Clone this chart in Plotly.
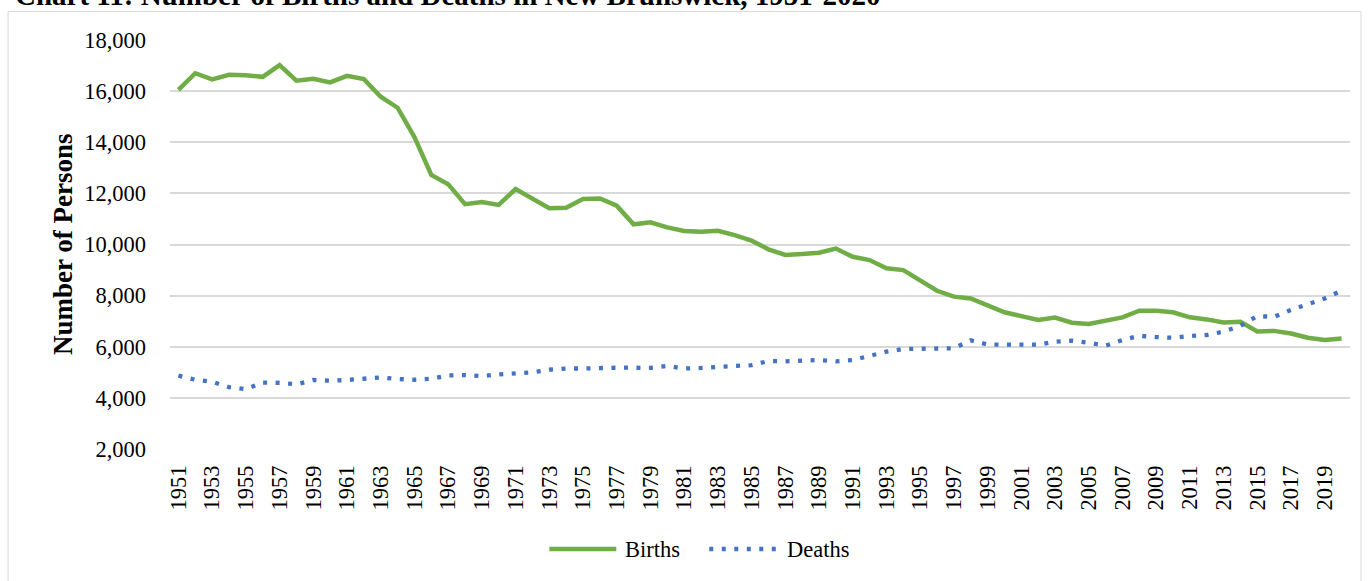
import plotly.graph_objects as go

years = list(range(1951, 2021))
births = [16050, 16700, 16460, 16640, 16620, 16560, 17020, 16410, 16480, 16340,
          16600, 16470, 15780, 15350, 14200, 12720, 12360, 11580, 11660, 11550,
          12170, 11800, 11420, 11440, 11780, 11800, 11520, 10790, 10870, 10670,
          10530, 10500, 10540, 10370, 10150, 9810, 9590, 9630, 9680, 9840,
          9520, 9390, 9070, 9000, 8570, 8190, 7960, 7890, 7620, 7350,
          7200, 7050, 7140, 6940, 6890, 7020, 7150, 7410, 7410, 7350,
          7150, 7070, 6950, 6980, 6600, 6620, 6520, 6350, 6260, 6320]
deaths = [4870, 4710, 4630, 4420, 4340, 4600, 4590, 4530, 4700, 4670,
          4700, 4760, 4800, 4740, 4710, 4750, 4880, 4890, 4850, 4920,
          4940, 5000, 5100, 5150, 5150, 5180, 5180, 5180, 5170, 5250,
          5150, 5170, 5190, 5250, 5280, 5440, 5430, 5440, 5480, 5430,
          5480, 5640, 5810, 5910, 5910, 5910, 5940, 6250, 6090, 6080,
          6070, 6080, 6200, 6240, 6160, 6040, 6260, 6430, 6380, 6350,
          6420, 6460, 6590, 6820, 7200, 7170, 7440, 7650, 7890, 8190]
tick_years = years[::2]
tick_labels = [str(y) for y in tick_years]
y_ticks = list(range(2000, 18001, 2000))
y_tick_labels = [f"{v:,}" for v in y_ticks]
series_names = ["Births", "Deaths"]
series_colors = ["#70AD47", "#4472C4"]

title_text = "Chart 11: Number of Births and Deaths in New Brunswick, 1951-2020"
y_title = "Number of Persons"

FONT = "Liberation Serif"
W, H = 1369, 581
L, R, T, B = 169.5, 19, 40, 132
pw = W - L - R
ph = H - T - B

def px_x(p):
    return (p - L) / pw

def px_y(p):
    return 1 - (p - T) / ph

DOT = "4px,8.5px"

fig = go.Figure()
fig.add_trace(go.Scatter(
    x=years, y=births, name=series_names[0], mode="lines",
    line=dict(color=series_colors[0], width=4.5), showlegend=False,
))
fig.add_trace(go.Scatter(
    x=years, y=deaths, name=series_names[1], mode="lines",
    line=dict(color=series_colors[1], width=4.3, dash=DOT), showlegend=False,
))

# legend drawn as paper-positioned samples (long sample lines like the original)
leg_y = px_y(549)
shapes = [
    dict(type="rect", xref="paper", yref="paper",
         x0=px_x(7.5), x1=px_x(1361), y0=px_y(600), y1=px_y(11.5),
         line=dict(color="#D9D9D9", width=1), layer="below"),
    dict(type="line", xref="paper", yref="paper",
         x0=px_x(549), x1=px_x(616), y0=leg_y, y1=leg_y,
         line=dict(color=series_colors[0], width=4.5)),
    dict(type="line", xref="paper", yref="paper",
         x0=px_x(709), x1=px_x(778), y0=leg_y, y1=leg_y,
         line=dict(color=series_colors[1], width=4.3, dash=DOT)),
]

annotations = [
    dict(text=f"<b>{title_text}</b>", xref="paper", yref="paper",
         x=px_x(12), y=px_y(-5), xanchor="left", yanchor="middle",
         showarrow=False, font=dict(family=FONT, size=29, color="black")),
    dict(text=f"<b>{y_title}</b>", xref="paper", yref="paper",
         x=px_x(62), y=0.5, xanchor="center", yanchor="middle",
         textangle=-90, showarrow=False,
         font=dict(family=FONT, size=27, color="black")),
    dict(text=series_names[0], xref="paper", yref="paper",
         x=px_x(623), y=leg_y, xanchor="left", yanchor="middle",
         showarrow=False, font=dict(family=FONT, size=22.5, color="black")),
    dict(text=series_names[1], xref="paper", yref="paper",
         x=px_x(785), y=leg_y, xanchor="left", yanchor="middle",
         showarrow=False, font=dict(family=FONT, size=22.5, color="black")),
]

fig.update_layout(
    width=W, height=H,
    margin=dict(l=L, r=R, t=T, b=B, pad=0),
    paper_bgcolor="white", plot_bgcolor="white",
    font=dict(family=FONT, size=22.5, color="black"),
    showlegend=False,
    xaxis=dict(
        range=[1950.5, 2020.5],
        tickmode="array", tickvals=tick_years, ticktext=tick_labels,
        tickangle=-90, showgrid=False, zeroline=False, showline=False,
        ticks="", ticklabelstandoff=11,
        tickfont=dict(family=FONT, size=22.5, color="black"),
    ),
    yaxis=dict(
        range=[2000, 18000],
        tickmode="array", tickvals=y_ticks, ticktext=y_tick_labels,
        showgrid=True, gridcolor="#D9D9D9", gridwidth=1.5,
        zeroline=False, showline=False, ticks="", ticklabelstandoff=23,
        tickfont=dict(family=FONT, size=22.5, color="black"),
    ),
    shapes=shapes,
    annotations=annotations,
)

fig.write_html(
    "out.html",
    config={"displayModeBar": False},
    post_script="document.body.style.margin='0';document.body.style.overflow='hidden';",
)
